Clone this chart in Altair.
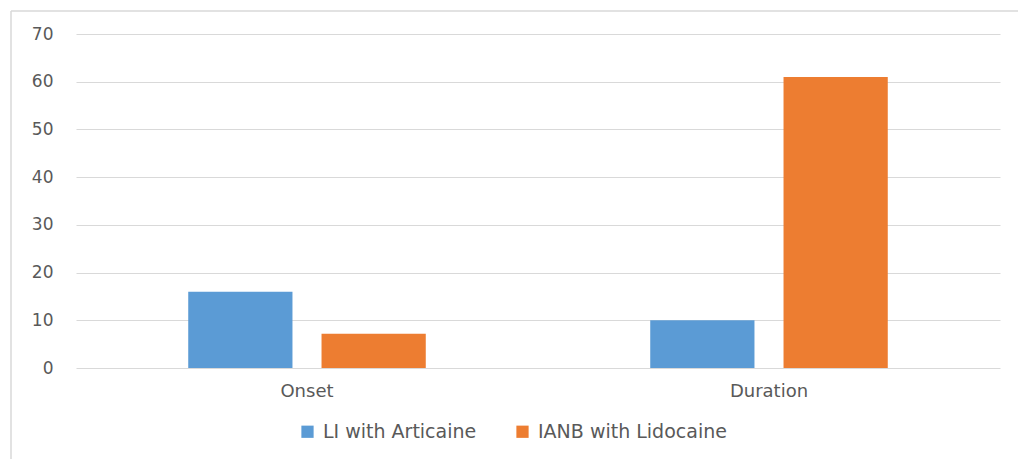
import altair as alt
import pandas as pd

categories = ["Onset", "Onset", "Duration", "Duration"]
series = ["LI with Articaine", "IANB with Lidocaine", "LI with Articaine", "IANB with Lidocaine"]
values = [16, 7.2, 10, 61]

cat_order = ["Onset", "Duration"]
series_order = ["LI with Articaine", "IANB with Lidocaine"]
colors = ["#5B9BD5", "#ED7D31"]

df = pd.DataFrame({"category": categories, "series": series, "value": values})

FONT = "DejaVu Sans"
GRAY = "#595959"

bars = alt.Chart(df).mark_bar().encode(
    x=alt.X("category:N", sort=cat_order, title=None,
            scale=alt.Scale(paddingInner=0, paddingOuter=0),
            axis=alt.Axis(labelAngle=0, ticks=False, domain=False, labelPadding=14,
                          labelFontSize=18, labelColor=GRAY, labelFont=FONT)),
    xOffset=alt.XOffset("series:N", sort=series_order,
                        scale=alt.Scale(paddingInner=0.218, paddingOuter=0.842)),
    y=alt.Y("value:Q", title=None,
            scale=alt.Scale(domain=[0, 70]),
            axis=alt.Axis(values=[0, 10, 20, 30, 40, 50, 60, 70], ticks=False, domain=False,
                          labelPadding=23, labelFontSize=17, labelColor=GRAY, labelFont=FONT,
                          gridColor="#d9d9d9", gridWidth=1)),
    color=alt.Color("series:N", sort=series_order,
                    scale=alt.Scale(domain=series_order, range=colors),
                    legend=alt.Legend(title=None, orient="none", legendX=222, legendY=388,
                                      direction="horizontal", symbolType="square",
                                      symbolSize=150, symbolStrokeWidth=0, labelOffset=6,
                                      labelFontSize=19, labelColor=GRAY, labelFont=FONT,
                                      labelLimit=400, columnPadding=36)),
)

border = alt.Chart(alt.Data(values=[{}])).mark_rule(color="#d9d9d9", strokeWidth=1.5)
left_line = border.encode(x=alt.value(-65), y=alt.value(-23), y2=alt.value(425))
top_line = border.encode(x=alt.value(-65), x2=alt.value(942), y=alt.value(-23))

chart = alt.layer(bars, left_line, top_line).properties(
    width=924, height=334,
    autosize=alt.AutoSizeParams(type="none"),
    padding={"left": 76, "top": 34, "right": 18, "bottom": 91},
).configure_view(stroke=None)

chart.save("out.html", embed_options={"renderer": "svg", "actions": False})
